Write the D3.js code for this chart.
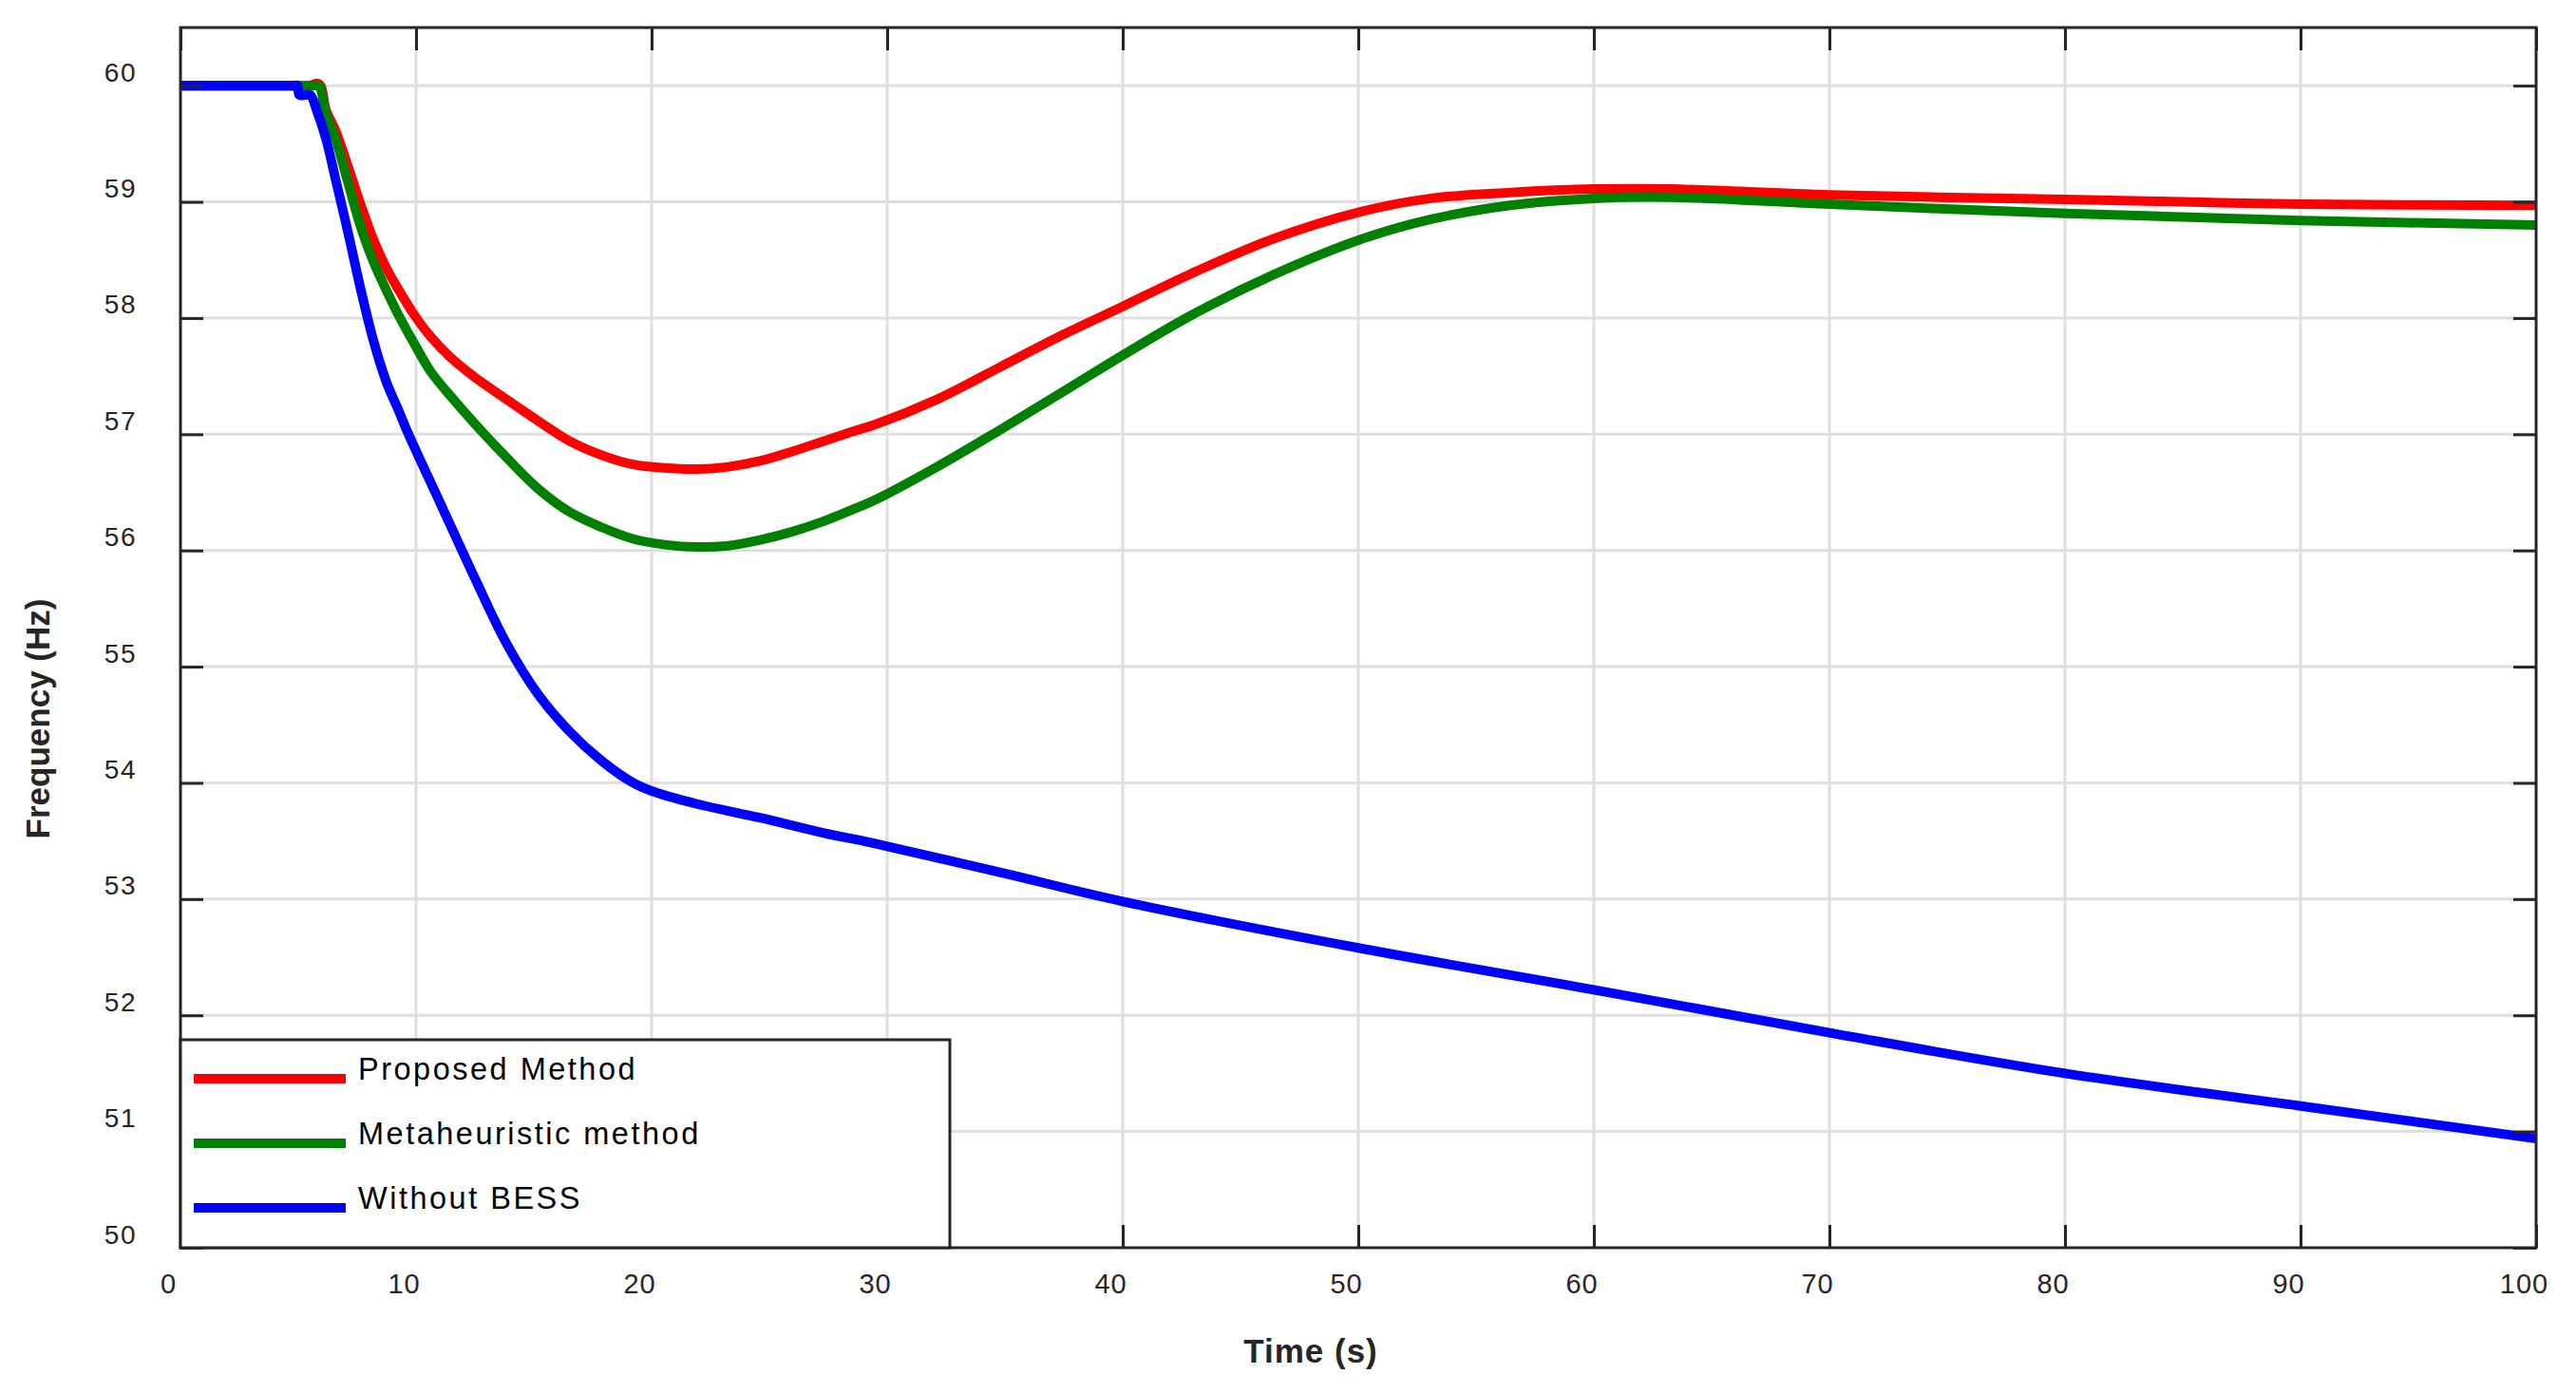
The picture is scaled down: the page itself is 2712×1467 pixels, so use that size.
<!DOCTYPE html>
<head>
  <meta charset="utf-8">
  <title>Frequency response</title>
  <script src="https://d3js.org/d3.v7.min.js"></script>
</head>
<body style="margin:0;background:#fff">
  <style>
  text { font-family: Arial, "Liberation Sans", Helvetica, sans-serif; fill: #262626; }
  .grid line { stroke: #dfdfdf; stroke-width: 3; }
  .frame { fill: none; stroke: #262626; stroke-width: 3; }
  .tick-mark { stroke: #262626; stroke-width: 3; }
  </style>
  <script>
    // series samples (time in s, frequency in Hz)
    var timeProposed = [0, 4.5, 5.5, 5.78, 5.95, 6.18, 6.59, 7.12, 7.66, 8.2, 8.74, 9.27, 9.95, 10.62, 11.42, 12.5, 13.84, 14.78, 16.53, 17.88, 19.22, 20.56, 21.9, 23.25, 24.6, 25.94, 27.28, 28.63, 29.44, 32.12, 34.81, 37.5, 40, 42.88, 46.37, 50, 53.09, 56.45, 60, 63.3, 70, 80, 85, 90, 100];
    var freqProposed = [60, 60, 60, 60.02, 60, 59.79, 59.61, 59.3, 58.97, 58.67, 58.43, 58.24, 58.02, 57.84, 57.67, 57.49, 57.3, 57.17, 56.94, 56.82, 56.74, 56.71, 56.7, 56.72, 56.77, 56.85, 56.94, 57.03, 57.08, 57.3, 57.58, 57.86, 58.1, 58.38, 58.68, 58.91, 59.03, 59.08, 59.11, 59.11, 59.06, 59.02, 59.0, 58.98, 58.97];

    var timeMeta = [0, 4.5, 5.6, 5.9, 5.96, 6.18, 6.59, 7.12, 7.66, 8.2, 8.74, 9.27, 9.95, 10.62, 11.42, 12.5, 13.84, 15.19, 16.53, 17.88, 19.22, 20.56, 21.9, 23.25, 24.6, 25.94, 27.28, 28.63, 29.44, 32.12, 34.81, 37.5, 40, 42.88, 46.37, 50, 53.09, 56.45, 60, 63.3, 70, 80, 85, 90, 100];
    var freqMeta = [60, 60, 60, 60, 59.97, 59.76, 59.54, 59.16, 58.78, 58.48, 58.24, 58.02, 57.77, 57.54, 57.34, 57.09, 56.8, 56.53, 56.33, 56.2, 56.1, 56.05, 56.03, 56.04, 56.09, 56.16, 56.25, 56.36, 56.43, 56.72, 57.04, 57.37, 57.68, 58.02, 58.37, 58.67, 58.85, 58.97, 59.03, 59.04, 58.98, 58.9, 58.87, 58.84, 58.8];

    var timeNoBess = [0, 4.0, 4.8, 4.97, 5.04, 5.3, 5.51, 5.78, 6.18, 6.59, 7.12, 7.66, 8.2, 8.74, 9.27, 9.68, 11, 12.5, 13.84, 15.19, 16.53, 17.88, 19.22, 20, 21.9, 24.6, 27.28, 29.44, 35, 40, 50, 60, 70, 80, 90, 100];
    var freqNoBess = [60, 60, 60, 60, 59.92, 59.92, 59.92, 59.79, 59.54, 59.19, 58.73, 58.24, 57.8, 57.45, 57.2, 57.0, 56.42, 55.76, 55.2, 54.76, 54.44, 54.19, 54.0, 53.93, 53.82, 53.7, 53.57, 53.48, 53.22, 52.98, 52.58, 52.22, 51.85, 51.5, 51.22, 50.94];

    var seriesNames = ['Proposed Method', 'Metaheuristic method', 'Without BESS'];
    var seriesColors = ['#ff0000', '#008000', '#0000ff'];

    var xTicks = [0, 10, 20, 30, 40, 50, 60, 70, 80, 90, 100];
    var yTicks = [50, 51, 52, 53, 54, 55, 56, 57, 58, 59, 60];

    var width = 2712;
    var height = 1467;
    var plotLeft = 190, plotRight = 2670, plotTop = 29, plotBottom = 1314;
    var tickLen = 24;

    var svg = d3.select('body').append('svg').attr('width', width).attr('height', height);

    var xscale = d3.scaleLinear().domain([0, 100]).range([plotLeft, plotRight]);
    var yscale = d3.scaleLinear().domain([50, 60.5]).range([plotBottom, plotTop]);

    function zip(ts, fs) {
      return ts.map(function(t, i) { return [t, fs[i]]; });
    }
    var series = [zip(timeProposed, freqProposed), zip(timeMeta, freqMeta), zip(timeNoBess, freqNoBess)];

    // grid
    var grid = svg.append('g').attr('class', 'grid');
    grid.selectAll('.gx').data(xTicks.slice(1, -1)).enter().append('line')
      .attr('x1', function(d) {return xscale(d);}).attr('x2', function(d) {return xscale(d);})
      .attr('y1', plotTop).attr('y2', plotBottom);
    grid.selectAll('.gy').data(yTicks.slice(1)).enter().append('line')
      .attr('x1', plotLeft).attr('x2', plotRight)
      .attr('y1', function(d) {return yscale(d);}).attr('y2', function(d) {return yscale(d);});

    // curves
    svg.append('clipPath').attr('id', 'plotclip').append('rect')
      .attr('x', plotLeft).attr('y', plotTop).attr('width', plotRight - plotLeft).attr('height', plotBottom - plotTop);

    var line = d3.line()
      .x(function(d) {return xscale(d[0]);})
      .y(function(d) {return yscale(d[1]);})
      .curve(d3.curveCatmullRom.alpha(0.5));

    svg.append('g').attr('clip-path', 'url(#plotclip)')
      .selectAll('path').data(series).enter().append('path')
      .attr('d', line)
      .attr('fill', 'none')
      .attr('stroke', function(d, i) {return seriesColors[i];})
      .attr('stroke-width', 10)
      .attr('stroke-linejoin', 'round');

    // axes (inward ticks on all four sides, like a boxed plot)
    var axisB = d3.axisBottom(xscale).tickValues(xTicks).tickSizeInner(-tickLen).tickSizeOuter(0);
    var axisT = d3.axisTop(xscale).tickValues(xTicks).tickSizeInner(-tickLen).tickSizeOuter(0).tickFormat('');
    var axisL = d3.axisLeft(yscale).tickValues(yTicks).tickSizeInner(-tickLen).tickSizeOuter(0);
    var axisR = d3.axisRight(yscale).tickValues(yTicks).tickSizeInner(-tickLen).tickSizeOuter(0).tickFormat('');

    var gb = svg.append('g').attr('transform', 'translate(0,' + plotBottom + ')').call(axisB);
    var gt = svg.append('g').attr('transform', 'translate(0,' + plotTop + ')').call(axisT);
    var gl = svg.append('g').attr('transform', 'translate(' + plotLeft + ',0)').call(axisL);
    var gr = svg.append('g').attr('transform', 'translate(' + plotRight + ',0)').call(axisR);

    [gb, gt, gl, gr].forEach(function(g) {
      g.select('.domain').remove();
      g.attr('font-family', null).attr('font-size', null);
      g.selectAll('.tick line').attr('class', 'tick-mark').attr('stroke', null);
    });

    gb.selectAll('.tick text')
      .attr('font-size', 29).attr('letter-spacing', 1)
      .attr('fill', null)
      .attr('dx', -13).attr('dy', 0).attr('y', 48);
    gl.selectAll('.tick text')
      .attr('font-size', 28).attr('letter-spacing', 1.5)
      .attr('fill', null)
      .attr('x', -46).attr('dy', -5).attr('text-anchor', 'end');

    svg.append('rect').attr('class', 'frame')
      .attr('x', plotLeft).attr('y', plotTop).attr('width', plotRight - plotLeft).attr('height', plotBottom - plotTop);

    // axis titles
    svg.append('text')
      .attr('x', 1380).attr('y', 1435)
      .attr('text-anchor', 'middle')
      .attr('font-size', 35).attr('font-weight', 'bold').attr('letter-spacing', 1)
      .text('Time (s)');

    svg.append('text')
      .attr('transform', 'translate(52,757) rotate(-90)')
      .attr('text-anchor', 'middle')
      .attr('font-size', 35).attr('font-weight', 'bold')
      .text('Frequency (Hz)');

    // legend
    var legend = svg.append('g');
    legend.append('rect')
      .attr('x', plotLeft).attr('y', 1095).attr('width', 1000 - plotLeft).attr('height', plotBottom - 1095)
      .attr('fill', '#fff').attr('stroke', '#262626').attr('stroke-width', 3);

    var items = legend.selectAll('.item').data(seriesNames).enter().append('g')
      .attr('transform', function(d, i) {return 'translate(0,' + (1136 + i * 68) + ')';});
    items.append('line')
      .attr('x1', 204).attr('x2', 364).attr('y1', 0).attr('y2', 0)
      .attr('stroke', function(d, i) {return seriesColors[i];})
      .attr('stroke-width', 10);
    items.append('text')
      .attr('x', 377).attr('y', 1)
      .attr('font-size', 32.5).attr('letter-spacing', 2.5)
      .style('fill', '#000')
      .text(function(d) {return d;});

  </script>
</body>
